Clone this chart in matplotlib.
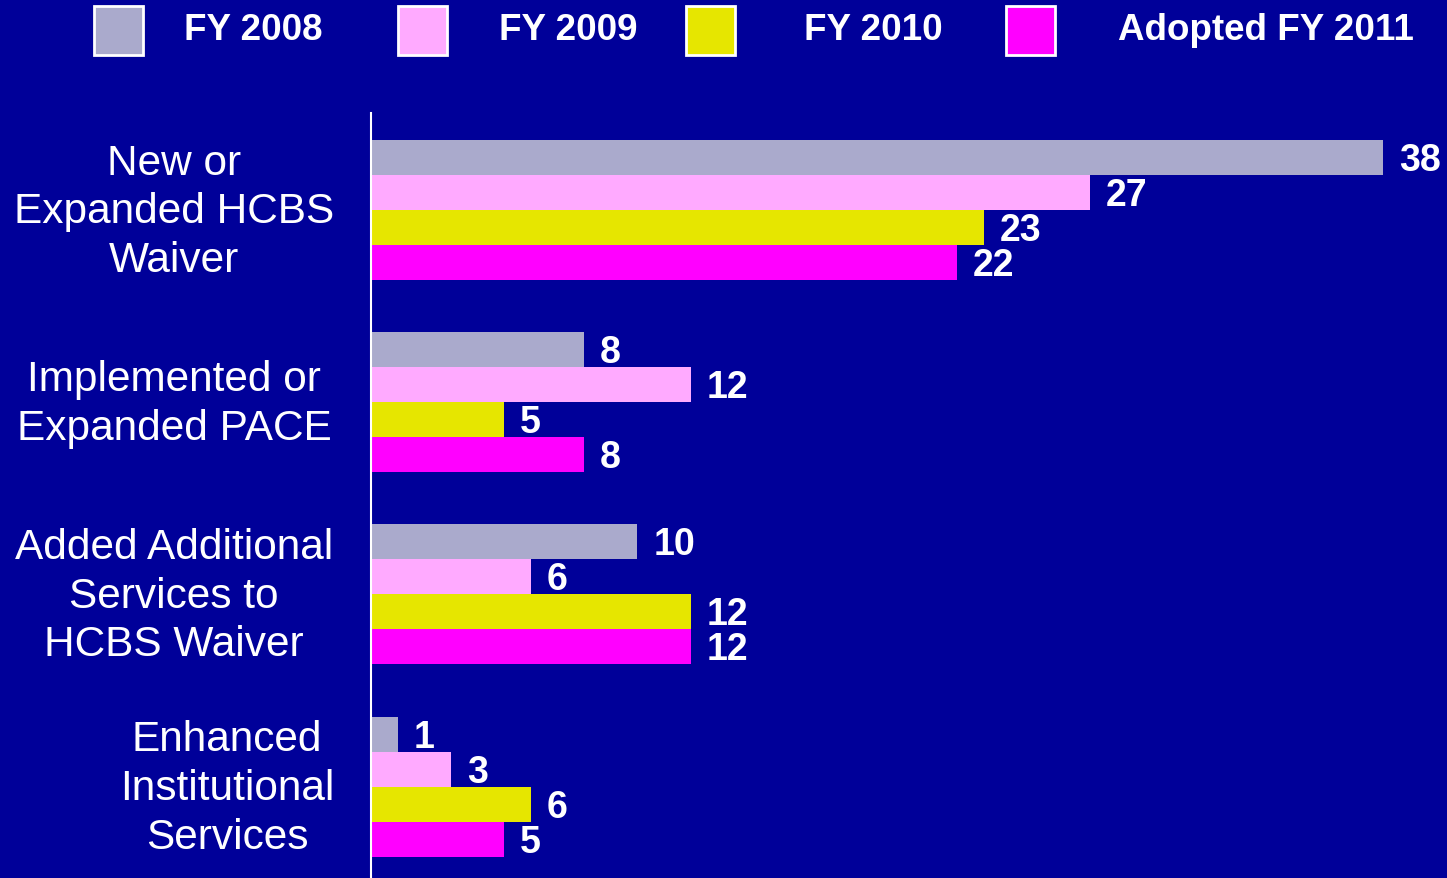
import matplotlib
matplotlib.use("Agg")
import matplotlib.pyplot as plt
from matplotlib.patches import Rectangle
import matplotlib.transforms as mtransforms

categories = ["New or\nExpanded HCBS\nWaiver", "Implemented or\nExpanded PACE",
              "Added Additional\nServices to\nHCBS Waiver", "Enhanced\nInstitutional\nServices"]
series_names = ["FY 2008", "FY 2009", "FY 2010", "Adopted FY 2011"]
fy2008 = [38, 8, 10, 1]
fy2009 = [27, 12, 6, 3]
fy2010 = [23, 5, 12, 6]
fy2011 = [22, 8, 12, 5]
series = [fy2008, fy2009, fy2010, fy2011]
colors = ["#AAAACC", "#FFAAFF", "#E6E600", "#FF00FF"]
bg = "#000099"

W, H = 1447, 879
fig = plt.figure(figsize=(W / 100, H / 100), dpi=100, facecolor=bg)
plt.rcParams['font.family'] = ['Liberation Sans', 'DejaVu Sans']

SP = 192.3
C0 = 210.7
ax = fig.add_axes([371 / W, 0, 1 - 371 / W, (879 - 114) / H])
ax.set_facecolor(bg)
bar_h = 35 / SP
down = mtransforms.offset_copy(ax.transData, fig=fig, x=0, y=-2.5, units="dots")
for j, vals in enumerate(series):
    ys = [i + (j - 1.5) * bar_h for i in range(len(categories))]
    ax.barh(ys, vals, height=bar_h, color=colors[j], linewidth=0)
    for y, v in zip(ys, vals):
        ax.text(v + 0.6, y, str(v), color="white", fontsize=27, fontweight="bold",
                va="center", ha="left", transform=down)

ax.set_xlim(0, (W - 371) / ((1383 - 371) / 38))
ax.set_ylim((879 - C0) / SP, (114 - C0) / SP)
for s in ["top", "right", "bottom"]:
    ax.spines[s].set_visible(False)
ax.spines["left"].set_color("white")
ax.spines["left"].set_linewidth(1.5)
ax.set_xticks([])
ax.set_yticks([])

# category labels
label_x = [174, 174, 174, 227]
for i, (cat, lx) in enumerate(zip(categories, label_x)):
    yfig = 1 - (C0 + 1.5 + i * SP) / H
    fig.text(lx / W, yfig, cat, color="white", fontsize=30.5, ha="center", va="center",
             linespacing=1.28, multialignment="center")

# legend
sq_x = [94, 398, 686, 1006]
tx_x = [184, 499, 804, 1118]
for name, c, sx, tx in zip(series_names, colors, sq_x, tx_x):
    fig.add_artist(Rectangle((sx / W, 1 - 56 / H), 49 / W, 49 / H, transform=fig.transFigure,
                             facecolor=c, edgecolor="white", linewidth=2))
    fig.text(tx / W, 1 - 30 / H, name, color="white", fontsize=26.5, fontweight="bold",
             ha="left", va="center")

fig.savefig("out.png", dpi=100, facecolor=bg)
